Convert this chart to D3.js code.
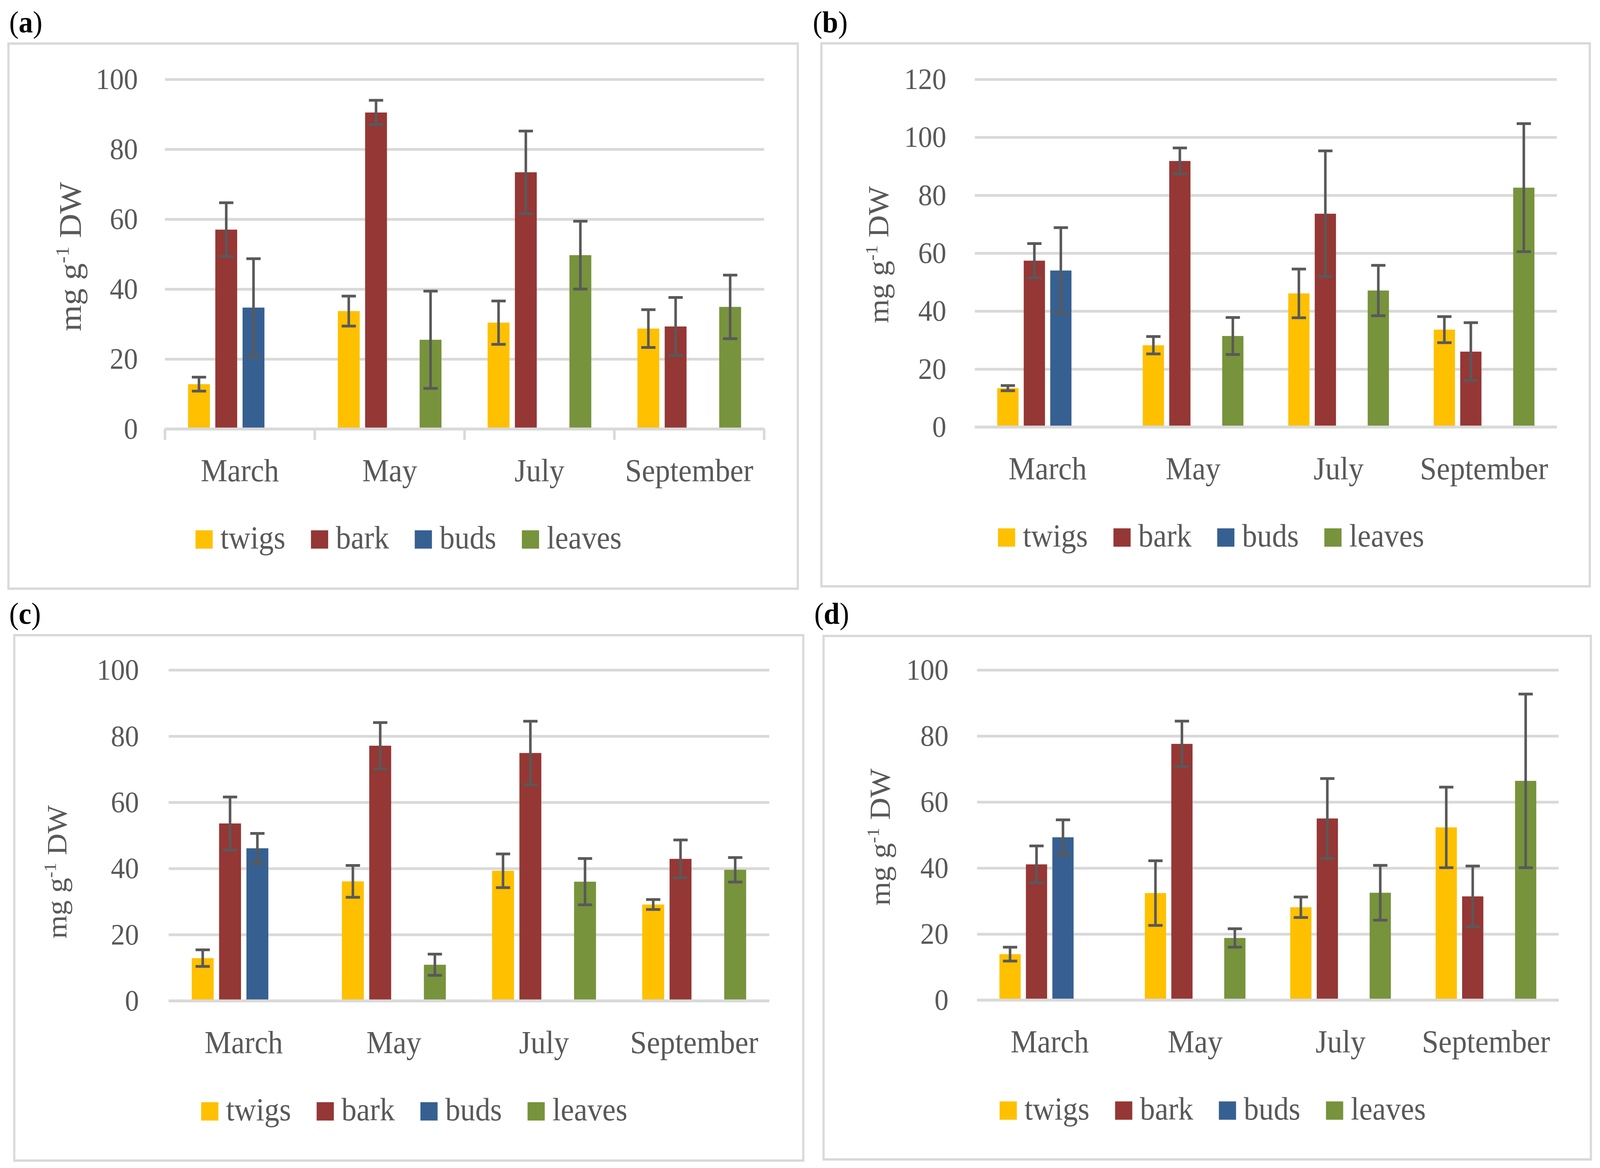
<!DOCTYPE html>
<html>
<head>
<meta charset="utf-8">
<script src="https://cdn.jsdelivr.net/npm/d3@7"></script>
<style>
html,body{margin:0;padding:0;background:#fff;overflow:hidden;}
#chart{display:block;width:100vw;height:100vh;}
text{font-family:"Liberation Serif","Times New Roman",serif;}
</style>
</head>
<body>
<svg id="chart" viewBox="0 0 4374 2990" preserveAspectRatio="none"></svg>
<script>
var months = ["March", "May", "July", "September"];
var tissues = ["twigs", "bark", "buds", "leaves"];

// means per tissue (rows) and month (columns); null = not sampled
var valuesA = [
	[12.8, 33.7, 30.4, 28.7],
	[57.0, 90.5, 73.4, 29.3],
	[34.7, null, null, null],
	[null, 25.5, 49.7, 34.9]
];
var errorsA = [
	[2.0, 4.3, 6.2, 5.4],
	[7.7, 3.5, 11.8, 8.3],
	[14.0, null, null, null],
	[null, 13.9, 9.7, 9.1]
];
var valuesB = [
	[13.4, 28.2, 46.1, 33.6],
	[57.4, 91.8, 73.6, 26.0],
	[54.0, null, null, null],
	[null, 31.4, 47.1, 82.6]
];
var errorsB = [
	[0.9, 3.0, 8.4, 4.5],
	[5.9, 4.5, 21.7, 10.0],
	[14.8, null, null, null],
	[null, 6.4, 8.7, 22.1]
];
var valuesC = [
	[12.9, 36.1, 39.3, 29.1],
	[53.6, 77.1, 74.9, 42.9],
	[46.1, null, null, null],
	[null, 10.9, 36.0, 39.6]
];
var errorsC = [
	[2.5, 4.8, 5.1, 1.5],
	[8.0, 7.0, 9.6, 5.7],
	[4.5, null, null, null],
	[null, 3.2, 7.0, 3.7]
];
var valuesD = [
	[13.9, 32.4, 28.1, 52.3],
	[41.1, 77.6, 55.0, 31.4],
	[49.3, null, null, null],
	[null, 18.8, 32.5, 66.4]
];
var errorsD = [
	[2.1, 9.8, 3.1, 12.2],
	[5.6, 6.9, 12.1, 9.2],
	[5.3, null, null, null],
	[null, 2.8, 8.3, 26.3]
];
var ticks100 = [0, 20, 40, 60, 80, 100];
var ticks120 = [0, 20, 40, 60, 80, 100, 120];

var tissueColors = ["#FFC000", "#953735", "#376092", "#77933C"];
var gridColor = "#D9D9D9";
var textColor = "#595959";

var panels = [
	{tag: "a", values: valuesA, errors: errorsA, ticks: ticks100, yMax: 100,
	 frame: [23, 111.5, 2181, 1507], left: 451, right: 2089, top: 203, bottom: 1098,
	 tickEnd: 377, labelX: 202, labelY: 657, labelSize: 86, tagX: 25, tagY: 83, tickMarks: true},
	{tag: "b", values: valuesB, errors: errorsB, ticks: ticks120, yMax: 120,
	 frame: [2245.5, 111, 4346, 1501], left: 2665, right: 4256, top: 203, bottom: 1093,
	 tickEnd: 2587, labelX: 2411, labelY: 652, labelSize: 79, tagX: 2222, tagY: 83, tickMarks: false},
	{tag: "c", values: valuesC, errors: errorsC, ticks: ticks100, yMax: 100,
	 frame: [39, 1626, 2196, 2971], left: 461, right: 2103, top: 1715, bottom: 2562,
	 tickEnd: 380, labelX: 165, labelY: 2232, labelSize: 77, tagX: 25, tagY: 1597, tickMarks: false},
	{tag: "d", values: valuesD, errors: errorsD, ticks: ticks100, yMax: 100,
	 frame: [2251.5, 1628, 4349, 2968], left: 2671, right: 4261, top: 1715, bottom: 2560,
	 tickEnd: 2593, labelX: 2415, labelY: 2143, labelSize: 79, tagX: 2226, tagY: 1597, tickMarks: false}
];

var svg = d3.select("#chart");

function drawPanel(p){
	var g = svg.append("g");

	g.append("rect")
		.attr("x", p.frame[0]).attr("y", p.frame[1])
		.attr("width", p.frame[2] - p.frame[0]).attr("height", p.frame[3] - p.frame[1])
		.attr("fill", "none").attr("stroke", gridColor).attr("stroke-width", 6);

	var tag = g.append("text").attr("x", p.tagX).attr("y", p.tagY)
		.attr("font-size", 78).attr("fill", "#000");
	tag.append("tspan").text("(");
	tag.append("tspan").attr("font-weight", "bold").text(p.tag);
	tag.append("tspan").text(")");

	var x = d3.scaleBand().domain(months).range([p.left, p.right]);
	var y = d3.scaleLinear().domain([0, p.yMax]).range([p.bottom, p.top]);
	var inner = d3.scaleBand().domain(tissues).range([0, x.bandwidth()])
		.paddingInner(0.198).paddingOuter(0.846);

	// gridlines and value labels
	var yAxis = g.append("g").attr("transform", "translate(" + p.left + ",0)")
		.call(d3.axisLeft(y).tickValues(p.ticks).tickSize(-(p.right - p.left)).tickPadding(p.left - p.tickEnd));
	yAxis.select(".domain").remove();
	yAxis.attr("font-family", null).attr("font-size", null);
	yAxis.selectAll(".tick line").attr("stroke", gridColor).attr("stroke-width", 7);
	yAxis.selectAll(".tick text").attr("font-size", 77).attr("fill", textColor);

	var rows = [];
	tissues.forEach(function(t, i){
		months.forEach(function(m, j){
			if(p.values[i][j] != null){
				rows.push({t: t, m: m, v: p.values[i][j], e: p.errors[i][j], c: tissueColors[i]});
			}
		});
	});

	g.selectAll(".bar").data(rows).enter().append("rect")
		.attr("class", "bar")
		.attr("x", function(d){ return x(d.m) + inner(d.t); })
		.attr("width", inner.bandwidth())
		.attr("y", function(d){ return y(d.v); })
		.attr("height", function(d){ return y(0) - y(d.v); })
		.attr("fill", function(d){ return d.c; });

	// zero line sits over the bars
	g.append("line").attr("x1", p.left).attr("x2", p.right)
		.attr("y1", y(0)).attr("y2", y(0))
		.attr("stroke", gridColor).attr("stroke-width", 7);

	if(p.tickMarks){
		var edges = [x(months[0])].concat(months.map(function(m){ return x(m) + x.step(); }));
		g.selectAll(".edge").data(edges).enter().append("line")
			.attr("x1", function(d){ return d; }).attr("x2", function(d){ return d; })
			.attr("y1", y(0)).attr("y2", y(0) + 28)
			.attr("stroke", gridColor).attr("stroke-width", 7);
	}

	var xAxis = g.append("g").attr("transform", "translate(0," + y(0) + ")")
		.call(d3.axisBottom(x).tickSize(0).tickPadding(134 - 0.71 * 82));
	xAxis.select(".domain").remove();
	xAxis.attr("font-family", null).attr("font-size", null);
	xAxis.selectAll(".tick text").attr("font-size", 82).attr("fill", textColor);

	// error bars
	var cap = 19.5;
	var eb = g.selectAll(".err").data(rows).enter().append("g").attr("class", "err")
		.attr("stroke", textColor).attr("stroke-width", 7);
	eb.append("line")
		.attr("x1", function(d){ return x(d.m) + inner(d.t) + inner.bandwidth() / 2; })
		.attr("x2", function(d){ return x(d.m) + inner(d.t) + inner.bandwidth() / 2; })
		.attr("y1", function(d){ return y(d.v + d.e); })
		.attr("y2", function(d){ return y(d.v - d.e); });
	[1, -1].forEach(function(s){
		eb.append("line")
			.attr("x1", function(d){ return x(d.m) + inner(d.t) + inner.bandwidth() / 2 - cap; })
			.attr("x2", function(d){ return x(d.m) + inner(d.t) + inner.bandwidth() / 2 + cap; })
			.attr("y1", function(d){ return y(d.v + s * d.e); })
			.attr("y2", function(d){ return y(d.v + s * d.e); });
	});

	// axis title
	var fs = p.labelSize;
	var title = g.append("text")
		.attr("transform", "translate(" + (p.labelX + 0.22 * fs) + "," + p.labelY + ") rotate(-90)")
		.attr("text-anchor", "middle").attr("font-size", fs).attr("fill", textColor);
	title.append("tspan").text("mg g");
	title.append("tspan").attr("font-size", fs * 0.6).attr("dy", -0.38 * fs).text("-1");
	title.append("tspan").attr("dy", 0.38 * fs).text(" DW");

	// legend
	var legY = y(0) + 283;
	var leg = g.append("g");
	var items = tissues.map(function(t, i){
		var it = leg.append("g");
		it.append("rect").attr("width", 47).attr("height", 47).attr("y", legY - 23.5)
			.attr("fill", tissueColors[i]);
		var tx = it.append("text").attr("x", 68).attr("y", legY + 23).attr("font-size", 82)
			.attr("fill", textColor).text(t);
		return {node: it, w: 68 + tx.node().getComputedTextLength()};
	});
	var total = d3.sum(items, function(d){ return d.w; }) + 70 * (items.length - 1);
	var cx = (p.frame[0] + p.frame[2]) / 2 + 15;
	var pos = cx - total / 2;
	items.forEach(function(d){
		d.node.attr("transform", "translate(" + pos + ",0)");
		pos += d.w + 70;
	});
}

panels.forEach(drawPanel);
</script>
</body>
</html>
